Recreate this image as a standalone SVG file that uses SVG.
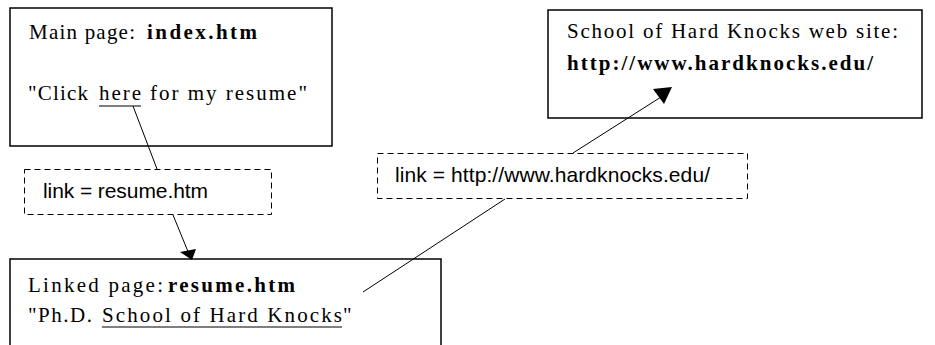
<svg xmlns="http://www.w3.org/2000/svg" width="935" height="345" viewBox="0 0 935 345">
  <style>
    .page { fill: #ffffff; stroke: #000000; stroke-width: 1.5; }
    .link { fill: #ffffff; stroke: #000000; stroke-width: 1; stroke-dasharray: 6 4; }
    .serif { font-family: "Liberation Serif", "Times New Roman", serif; font-size: 21px; fill: #000000; }
    .bold { font-weight: bold; }
    .sans { font-family: "Liberation Sans", Arial, sans-serif; font-size: 21px; fill: #000000; }
    .ul { stroke: #000000; stroke-width: 1.2; }
    .wire { stroke: #000000; stroke-width: 1; fill: none; }
    .head { fill: #000000; stroke: none; }
  </style>

  <!-- main page -->
  <g id="main-page">
    <rect class="page" x="10" y="8" width="322" height="138"/>
    <text class="serif" x="29" y="39" textLength="106" lengthAdjust="spacing">Main page:</text>
    <text class="serif bold" x="147" y="39" textLength="110" lengthAdjust="spacing">index.htm</text>
    <text class="serif" x="28" y="100" textLength="60" lengthAdjust="spacing">"Click</text>
    <text class="serif" x="99" y="100" textLength="42" lengthAdjust="spacing">here</text>
    <line class="ul" x1="99" y1="106" x2="141" y2="106"/>
    <text class="serif" x="150" y="100" textLength="157" lengthAdjust="spacing">for my resume"</text>
  </g>

  <!-- link from main page -->
  <g id="link-resume">
    <rect class="link" x="24.5" y="169.5" width="247" height="45"/>
    <text class="sans" x="43" y="198" textLength="165" lengthAdjust="spacing">link = resume.htm</text>
  </g>

  <!-- linked page -->
  <g id="linked-page">
    <rect class="page" x="10" y="259" width="431" height="110"/>
    <text class="serif" x="28" y="292" textLength="135" lengthAdjust="spacing">Linked page:</text>
    <text class="serif bold" x="168" y="292" textLength="127" lengthAdjust="spacing">resume.htm</text>
    <text class="serif" x="28" y="322" textLength="64" lengthAdjust="spacing">"Ph.D.</text>
    <text class="serif" x="102" y="322" textLength="240" lengthAdjust="spacing">School of Hard Knocks</text>
    <line class="ul" x1="102" y1="327" x2="342" y2="327"/>
    <text class="serif" x="343" y="322">"</text>
  </g>

  <!-- link from linked page -->
  <g id="link-hardknocks">
    <rect class="link" x="377.5" y="153.5" width="370" height="45"/>
    <text class="sans" x="395" y="182" textLength="315" lengthAdjust="spacing">link = http://www.hardknocks.edu/</text>
  </g>

  <!-- external web site -->
  <g id="web-site">
    <rect class="page" x="548" y="10" width="374" height="108"/>
    <text class="serif" x="567" y="38" textLength="331" lengthAdjust="spacing">School of Hard Knocks web site:</text>
    <text class="serif bold" x="567" y="70" textLength="306" lengthAdjust="spacing">http://www.hardknocks.edu/</text>
  </g>

  <!-- connectors -->
  <g id="connectors">
    <line class="wire" x1="133" y1="106" x2="157" y2="169"/>
    <line class="wire" x1="173" y1="215" x2="189" y2="254"/>
    <polygon class="head" points="180,252 196,249 192,260"/>
    <line class="wire" x1="363" y1="292" x2="505" y2="199"/>
    <line class="wire" x1="573" y1="153" x2="661" y2="97"/>
    <polygon class="head" points="653,89 672,87 664,104"/>
  </g>
</svg>
